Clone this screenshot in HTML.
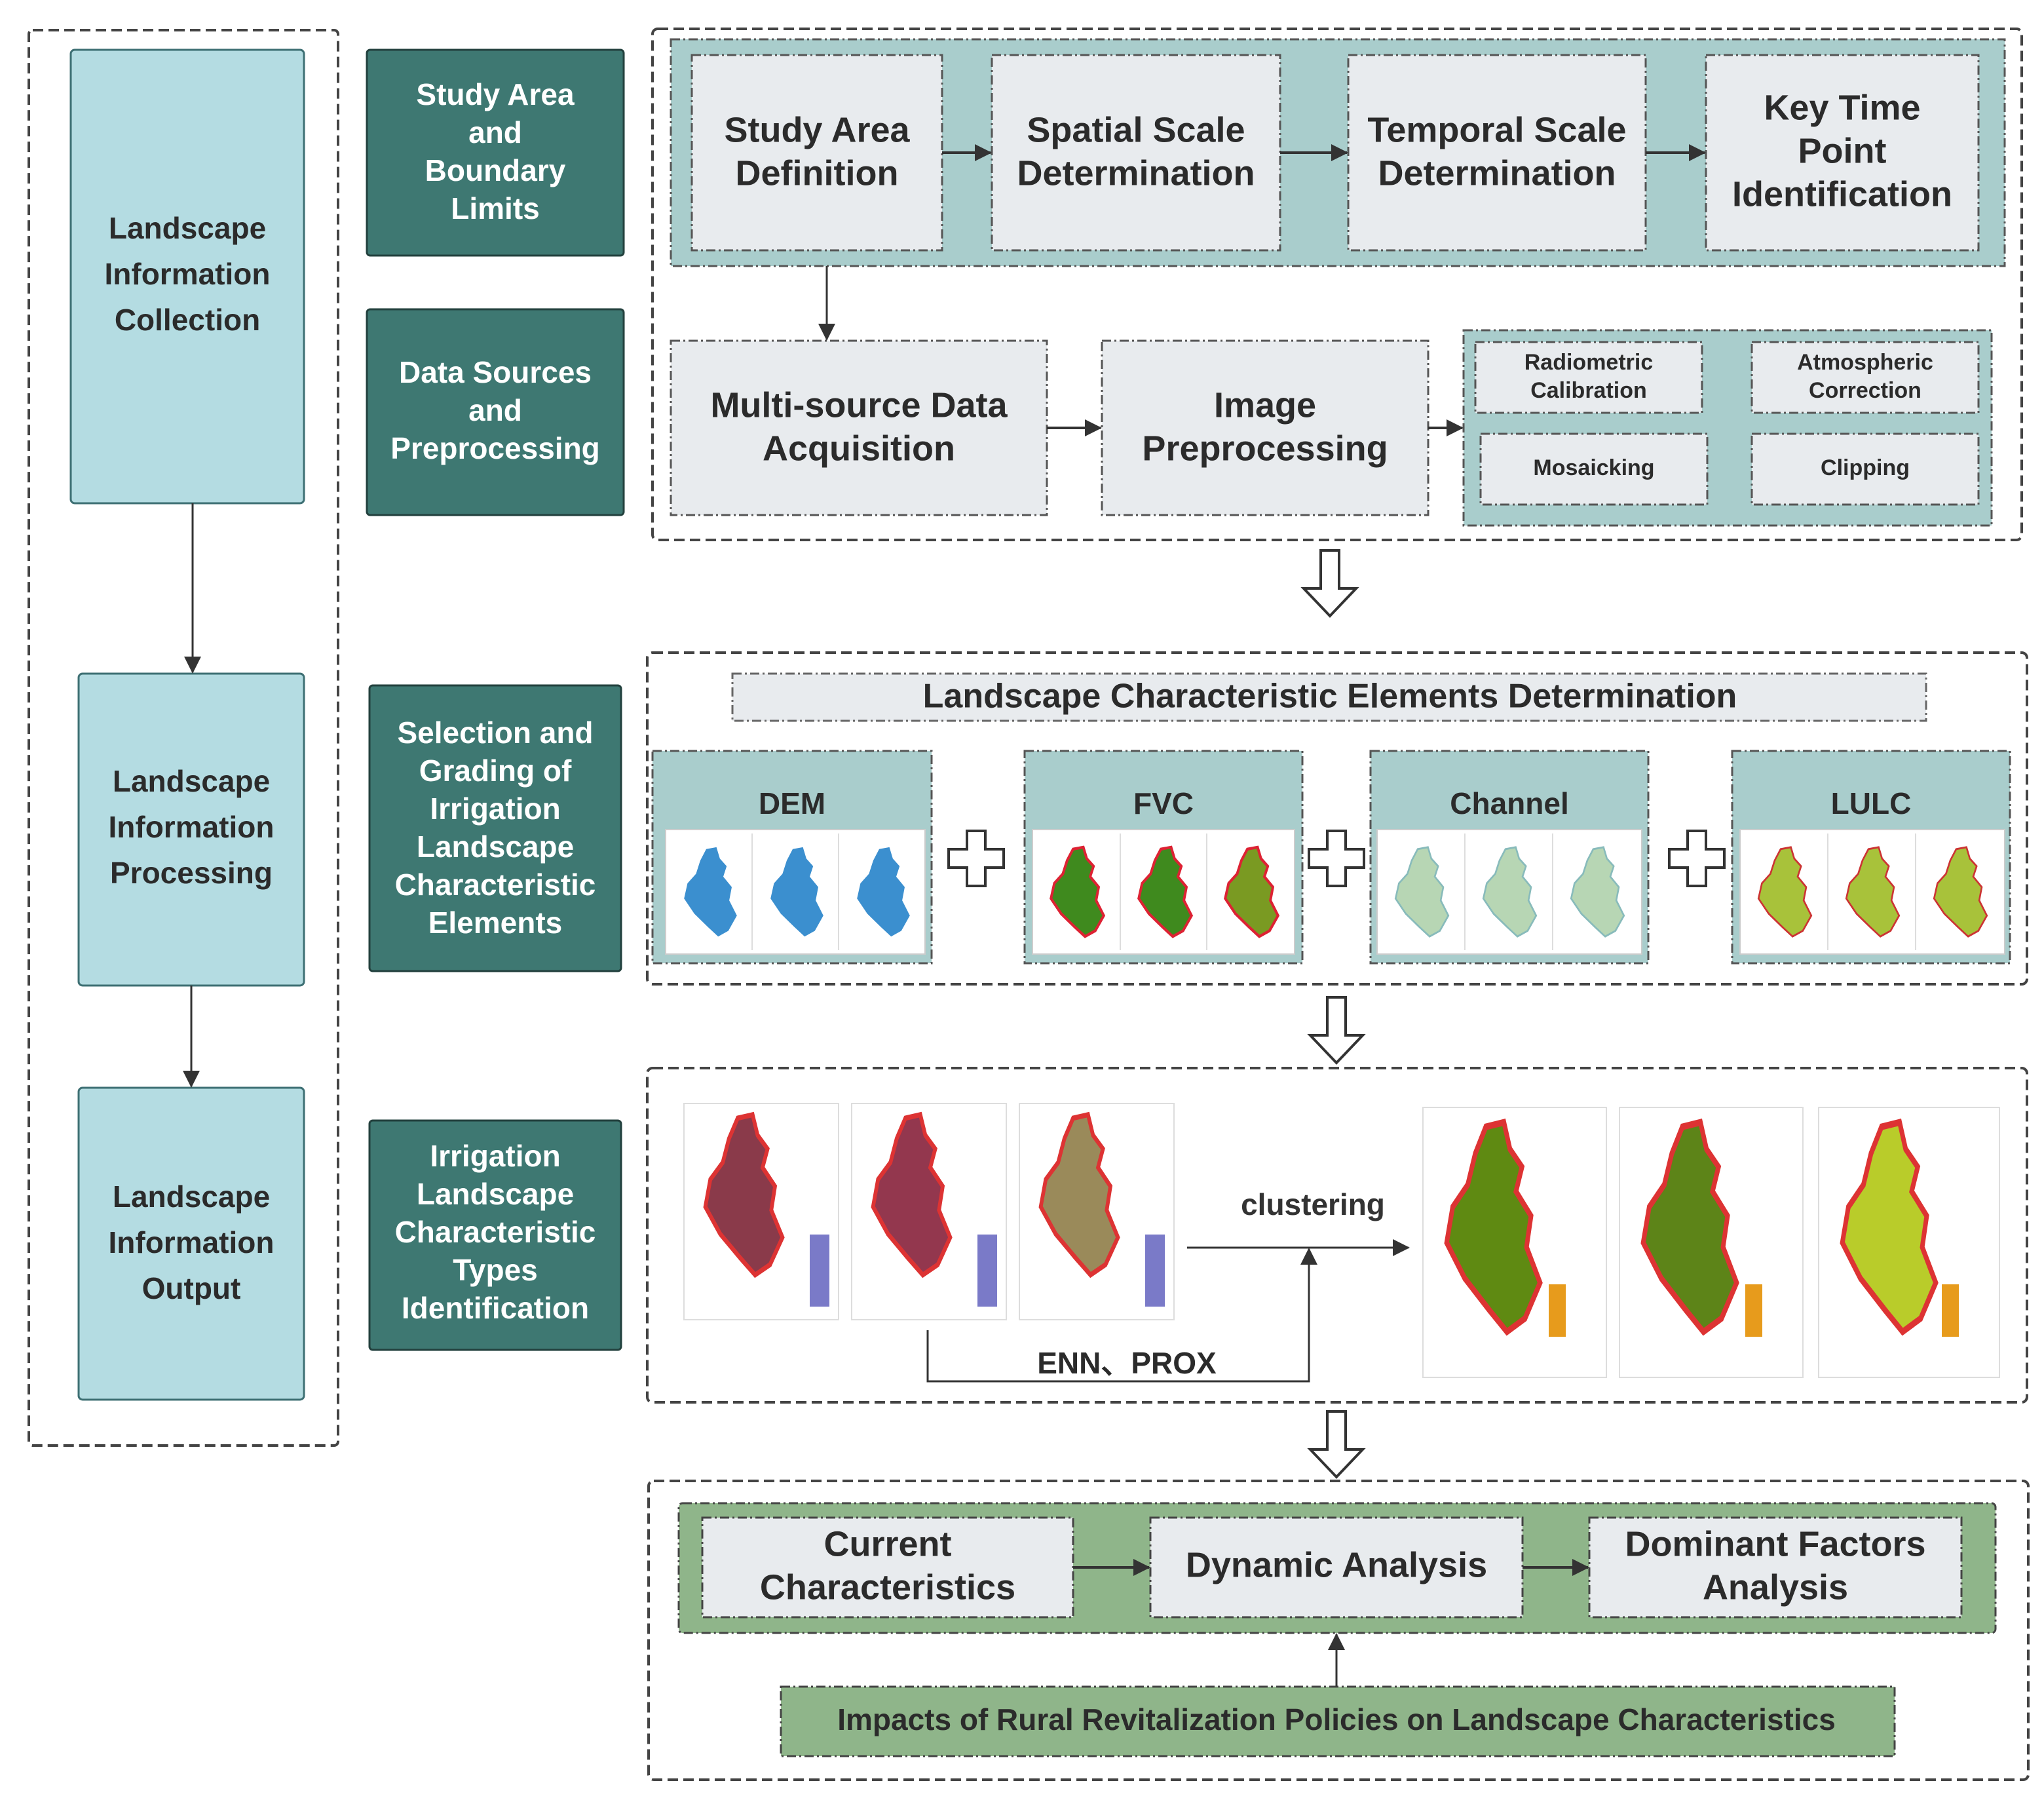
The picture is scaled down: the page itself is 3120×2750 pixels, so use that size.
<!DOCTYPE html>
<html><head><meta charset="utf-8"><style>
html,body{margin:0;padding:0;background:#fff}
svg{display:block}
text{font-family:"Liberation Sans","DejaVu Sans",sans-serif;font-weight:bold;text-anchor:middle;dominant-baseline:middle}
</style></head><body>
<svg width="3120" height="2750" viewBox="0 0 3120 2750" xmlns="http://www.w3.org/2000/svg">
<defs>
<marker id="ab" markerWidth="26" markerHeight="26" refX="24" refY="13" orient="auto" markerUnits="userSpaceOnUse" viewBox="0 0 26 26"><path d="M0,0 L26,13 L0,26 Z" fill="#333"/></marker>
<path id="blob" d="M40,4 L52,2 L56,14 L64,22 L60,33 L70,44 L67,58 L76,74 L66,90 L54,96 L42,86 L26,72 L14,56 L18,40 L28,30 L33,16 Z"/>
<g id="hollow"><path d="M-14,0 L14,0 L14,58 L40,58 L0,100 L-40,58 L-14,58 Z" fill="#fff" stroke="#333" stroke-width="4"/></g>
<g id="plus"><path d="M-14,-42 L14,-42 L14,-14 L42,-14 L42,14 L14,14 L14,42 L-14,42 L-14,14 L-42,14 L-42,-14 L-14,-14 Z" fill="#fff" stroke="#333" stroke-width="4"/></g>
</defs>

<g fill="none" stroke="#444" stroke-width="4" stroke-dasharray="16,8">
<rect x="44" y="46" width="472" height="2160" rx="6"/>
<rect x="996" y="44" width="2090" height="780" rx="8"/>
<rect x="988" y="996" width="2106" height="506" rx="8"/>
<rect x="988" y="1630" width="2106" height="510" rx="8"/>
<rect x="990" y="2260" width="2106" height="456" rx="8"/>
</g>

<g stroke="#3d6f73" stroke-width="3" fill="#b4dce2">
<rect x="108" y="76" width="356" height="692" rx="6"/>
<rect x="120" y="1028" width="344" height="476" rx="6"/>
<rect x="120" y="1660" width="344" height="476" rx="6"/>
</g>
<g font-size="46" fill="#2b2b2b">
<text x="286" y="352">Landscape</text><text x="286" y="422">Information</text><text x="286" y="492">Collection</text>
<text x="292" y="1196">Landscape</text><text x="292" y="1266">Information</text><text x="292" y="1336">Processing</text>
<text x="292" y="1830">Landscape</text><text x="292" y="1900">Information</text><text x="292" y="1970">Output</text>
</g>
<g stroke="#333" stroke-width="3">
<line x1="294" y1="768" x2="294" y2="1026" marker-end="url(#ab)"/>
<line x1="292" y1="1504" x2="292" y2="1658" marker-end="url(#ab)"/>
</g>

<g fill="#3e7872" stroke="#22403d" stroke-width="3">
<rect x="560" y="76" width="392" height="314" rx="5"/>
<rect x="560" y="472" width="392" height="314" rx="5"/>
<rect x="564" y="1046" width="384" height="436" rx="5"/>
<rect x="564" y="1710" width="384" height="350" rx="5"/>
</g>
<g font-size="46" fill="#fff">
<text x="756" y="148">Study Area</text><text x="756" y="206">and</text><text x="756" y="264">Boundary</text><text x="756" y="322">Limits</text>
<text x="756" y="572">Data Sources</text><text x="756" y="630">and</text><text x="756" y="688">Preprocessing</text>
<text x="756" y="1122">Selection and</text><text x="756" y="1180">Grading of</text><text x="756" y="1238">Irrigation</text><text x="756" y="1296">Landscape</text><text x="756" y="1354">Characteristic</text><text x="756" y="1412">Elements</text>
<text x="756" y="1768">Irrigation</text><text x="756" y="1826">Landscape</text><text x="756" y="1884">Characteristic</text><text x="756" y="1942">Types</text><text x="756" y="2000">Identification</text>
</g>

<g stroke="#555" stroke-width="3" stroke-dasharray="14,5,3,5">
<rect x="1024" y="60" width="2036" height="346" fill="#a9cdcc"/>
<rect x="1056" y="84" width="382" height="298" fill="#e8ebee"/>
<rect x="1514" y="84" width="440" height="298" fill="#e8ebee"/>
<rect x="2058" y="84" width="454" height="298" fill="#e8ebee"/>
<rect x="2604" y="84" width="416" height="298" fill="#e8ebee"/>
<rect x="1024" y="520" width="574" height="266" fill="#e8ebee"/>
<rect x="1682" y="520" width="498" height="266" fill="#e8ebee"/>
<rect x="2234" y="504" width="806" height="298" fill="#a9cdcc"/>
<rect x="2252" y="522" width="346" height="108" fill="#e8ebee"/>
<rect x="2674" y="522" width="346" height="108" fill="#e8ebee"/>
<rect x="2260" y="662" width="346" height="108" fill="#e8ebee"/>
<rect x="2674" y="662" width="346" height="108" fill="#e8ebee"/>
</g>
<g font-size="54" fill="#2b2b2b">
<text x="1247" y="202">Study Area</text><text x="1247" y="268">Definition</text>
<text x="1734" y="202">Spatial Scale</text><text x="1734" y="268">Determination</text>
<text x="2285" y="202">Temporal Scale</text><text x="2285" y="268">Determination</text>
<text x="2812" y="168">Key Time</text><text x="2812" y="234">Point</text><text x="2812" y="300">Identification</text>
<text x="1311" y="622">Multi-source Data</text><text x="1311" y="688">Acquisition</text>
<text x="1931" y="622">Image</text><text x="1931" y="688">Preprocessing</text>
</g>
<g font-size="34" fill="#2b2b2b">
<text x="2425" y="555">Radiometric</text><text x="2425" y="598">Calibration</text>
<text x="2847" y="555">Atmospheric</text><text x="2847" y="598">Correction</text>
<text x="2433" y="716">Mosaicking</text><text x="2847" y="716">Clipping</text>
</g>
<g stroke="#333" stroke-width="4">
<line x1="1438" y1="233" x2="1512" y2="233" marker-end="url(#ab)"/>
<line x1="1954" y1="233" x2="2056" y2="233" marker-end="url(#ab)"/>
<line x1="2512" y1="233" x2="2602" y2="233" marker-end="url(#ab)"/>
<line x1="1598" y1="653" x2="1680" y2="653" marker-end="url(#ab)"/>
<line x1="2180" y1="653" x2="2232" y2="653" marker-end="url(#ab)"/>
<line x1="1262" y1="406" x2="1262" y2="518" stroke-width="3" marker-end="url(#ab)"/>
</g>
<use href="#hollow" x="2030" y="840"/>

<rect x="1118" y="1028" width="1822" height="72" fill="#e8ebee" stroke="#666" stroke-width="3" stroke-dasharray="14,5,3,5"/>
<text x="2030" y="1066" font-size="52" fill="#2b2b2b">Landscape Characteristic Elements Determination</text>
<g stroke="#555" stroke-width="3" stroke-dasharray="14,5,3,5" fill="#a9cdcc">
<rect x="996" y="1146" width="426" height="324"/>
<rect x="1564" y="1146" width="424" height="324"/>
<rect x="2092" y="1146" width="424" height="324"/>
<rect x="2644" y="1146" width="424" height="324"/>
</g>
<g font-size="46" fill="#2b2b2b">
<text x="1209" y="1230">DEM</text><text x="1776" y="1230">FVC</text><text x="2304" y="1230">Channel</text><text x="2856" y="1230">LULC</text>
</g>
<g fill="#fff" stroke="#ccc" stroke-width="2">
<rect x="1016" y="1266" width="396" height="190"/>
<rect x="1576" y="1266" width="400" height="190"/>
<rect x="2102" y="1266" width="404" height="190"/>
<rect x="2656" y="1266" width="404" height="190"/>
</g>
<g stroke="#ddd" stroke-width="2" fill="none">
<line x1="1148" y1="1272" x2="1148" y2="1450"/><line x1="1280" y1="1272" x2="1280" y2="1450"/>
<line x1="1710" y1="1272" x2="1710" y2="1450"/><line x1="1842" y1="1272" x2="1842" y2="1450"/>
<line x1="2236" y1="1272" x2="2236" y2="1450"/><line x1="2370" y1="1272" x2="2370" y2="1450"/>
<line x1="2790" y1="1272" x2="2790" y2="1450"/><line x1="2924" y1="1272" x2="2924" y2="1450"/>
</g>
<g fill="#3b8fcf">
<use href="#blob" transform="translate(1026,1290) scale(1.3,1.45)"/>
<use href="#blob" transform="translate(1158,1290) scale(1.3,1.45)"/>
<use href="#blob" transform="translate(1290,1290) scale(1.3,1.45)"/>
</g>
<g fill="#3f8a1e" stroke="#d23" stroke-width="3">
<use href="#blob" transform="translate(1586,1290) scale(1.3,1.45)"/>
<use href="#blob" transform="translate(1720,1290) scale(1.3,1.45)"/>
<use href="#blob" transform="translate(1852,1290) scale(1.3,1.45)" fill="#7a9a22"/>
</g>
<g fill="#b7d6b4" stroke="#8bb" stroke-width="2">
<use href="#blob" transform="translate(2112,1290) scale(1.3,1.45)"/>
<use href="#blob" transform="translate(2246,1290) scale(1.3,1.45)"/>
<use href="#blob" transform="translate(2380,1290) scale(1.3,1.45)"/>
</g>
<g fill="#a8c23a" stroke="#c33" stroke-width="2">
<use href="#blob" transform="translate(2666,1290) scale(1.3,1.45)"/>
<use href="#blob" transform="translate(2800,1290) scale(1.3,1.45)"/>
<use href="#blob" transform="translate(2934,1290) scale(1.3,1.45)"/>
</g>
<use href="#plus" x="1490" y="1310"/>
<use href="#plus" x="2040" y="1310"/>
<use href="#plus" x="2590" y="1310"/>
<use href="#hollow" x="2040" y="1522"/>

<g fill="#fff" stroke="#ddd" stroke-width="2">
<rect x="1044" y="1684" width="236" height="330"/>
<rect x="1300" y="1684" width="236" height="330"/>
<rect x="1556" y="1684" width="236" height="330"/>
<rect x="2172" y="1690" width="280" height="412"/>
<rect x="2472" y="1690" width="280" height="412"/>
<rect x="2776" y="1690" width="276" height="412"/>
</g>
<g stroke="#d33" stroke-width="3">
<use href="#blob" transform="translate(1050,1696) scale(1.9,2.6)" fill="#8a3a4a"/>
<use href="#blob" transform="translate(1306,1696) scale(1.9,2.6)" fill="#93374e"/>
<use href="#blob" transform="translate(1562,1696) scale(1.9,2.6)" fill="#9a8a5a"/>
<use href="#blob" transform="translate(2176,1706) scale(2.3,3.4)" fill="#5f8a12"/>
<use href="#blob" transform="translate(2476,1706) scale(2.3,3.4)" fill="#5d8418"/>
<use href="#blob" transform="translate(2780,1706) scale(2.3,3.4)" fill="#b9cc2a"/>
</g>
<g fill="#7a7ac8">
<rect x="1236" y="1884" width="30" height="110"/><rect x="1492" y="1884" width="30" height="110"/><rect x="1748" y="1884" width="30" height="110"/>
</g>
<g fill="#e79b1c">
<rect x="2364" y="1960" width="26" height="80"/><rect x="2664" y="1960" width="26" height="80"/><rect x="2964" y="1960" width="26" height="80"/>
</g>
<text x="2004" y="1842" font-size="46" font-weight="normal" fill="#333">clustering</text>
<text x="1720" y="2084" font-size="46" fill="#2b2b2b">ENN、PROX</text>
<g stroke="#333" stroke-width="3" fill="none">
<line x1="1812" y1="1904" x2="2150" y2="1904" marker-end="url(#ab)"/>
<polyline points="1416,2030 1416,2108 1998,2108 1998,1906" marker-end="url(#ab)"/>
</g>
<use href="#hollow" x="2040" y="2154"/>

<g stroke="#444" stroke-width="3" stroke-dasharray="14,5,3,5">
<rect x="1036" y="2294" width="2010" height="198" fill="#8fb58a" rx="6"/>
<rect x="1072" y="2316" width="566" height="152" fill="#e8ebee"/>
<rect x="1756" y="2316" width="568" height="152" fill="#e8ebee"/>
<rect x="2426" y="2316" width="568" height="152" fill="#e8ebee"/>
<rect x="1192" y="2574" width="1700" height="106" fill="#8fb58a"/>
</g>
<g font-size="54" fill="#2b2b2b">
<text x="1355" y="2360">Current</text><text x="1355" y="2426">Characteristics</text>
<text x="2040" y="2392">Dynamic Analysis</text>
<text x="2710" y="2360">Dominant Factors</text><text x="2710" y="2426">Analysis</text>
<text x="2040" y="2628" font-size="46">Impacts of Rural Revitalization Policies on Landscape Characteristics</text>
</g>
<g stroke="#333" stroke-width="4">
<line x1="1638" y1="2392" x2="1754" y2="2392" marker-end="url(#ab)"/>
<line x1="2324" y1="2392" x2="2424" y2="2392" marker-end="url(#ab)"/>
<line x1="2040" y1="2574" x2="2040" y2="2494" stroke-width="3" marker-end="url(#ab)"/>
</g>
</svg>
</body></html>
